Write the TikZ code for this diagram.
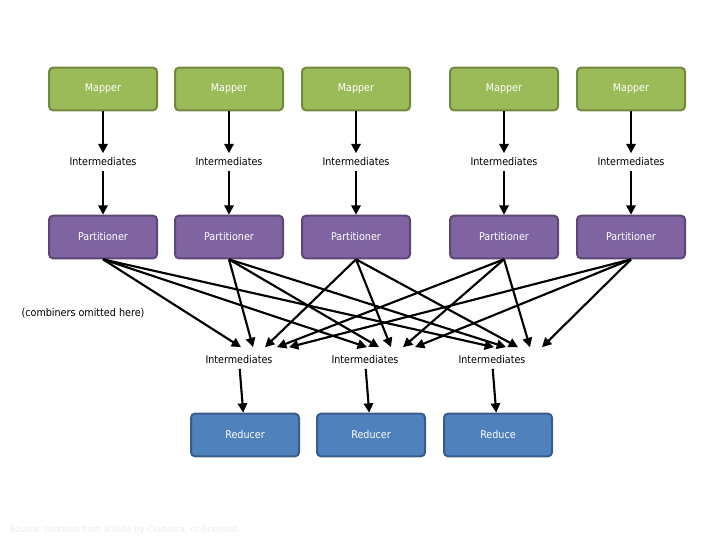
\documentclass[tikz,border=0pt]{standalone}
\usepackage{fontspec}
\setmainfont{DejaVu Sans Condensed}
\usetikzlibrary{arrows.meta, positioning}
\definecolor{mapgreen}{HTML}{9BBB59}
\definecolor{mapedge}{HTML}{71893F}
\definecolor{partpurple}{HTML}{8064A2}
\definecolor{partedge}{HTML}{5C4776}
\definecolor{redblue}{HTML}{4F81BD}
\definecolor{rededge}{HTML}{385D8A}
\begin{document}
\begin{tikzpicture}[x=0.75pt, y=-0.75pt,
    font=\fontsize{8}{9}\selectfont,
    box/.style={rectangle, rounded corners=3pt, draw, line width=1.5pt, minimum width=81pt, minimum height=32pt, text=white, align=center},
    mapper/.style={box, fill=mapgreen, draw=mapedge},
    part/.style={box, fill=partpurple, draw=partedge},
    reducer/.style={box, fill=redblue, draw=rededge},
    arrow/.style={-{Triangle[length=7pt, width=7pt]}, line width=1.6pt}
]
    \useasboundingbox (0,0) rectangle (720,540);
    % Map side
    \foreach \x [count=\i] in {103,229,356,504,631} {
        \node[mapper] (map\i) at (\x,89) {Mapper};
        \node (mint\i) at (\x,162) {Intermediates};
        \node[part] (part\i) at (\x,237) {Partitioner};
        \draw[arrow] (map\i) -- (mint\i);
        \draw[arrow] (mint\i) -- (part\i);
    }
    % Reduce side
    \foreach \x [count=\j] in {245,371,498} {
        \node (rint\j) at (\x-6,360) {Intermediates};
        \node[reducer] (red\j) at (\x,435) {\ifnum\j=3 Reduce\else Reducer\fi};
        \draw[arrow] (rint\j) -- (red\j);
    }
    % Shuffle
    \foreach \i in {1,...,5} {
        \foreach \j in {1,...,3} {
            \draw[arrow] (part\i.south) -- ([xshift=-7.5pt+9*\i pt, yshift=3pt]rint\j.north west -| rint\j.north);
        }
    }
    % Labels
    \node at (83,313) {(combiners omitted here)};
    \node[anchor=west, text=black!8, font=\fontsize{7}{8}\selectfont] (src) at (5,530) {Source: redrawn from a slide by Cloduera, cc-licensed};
\end{tikzpicture}
\end{document}
